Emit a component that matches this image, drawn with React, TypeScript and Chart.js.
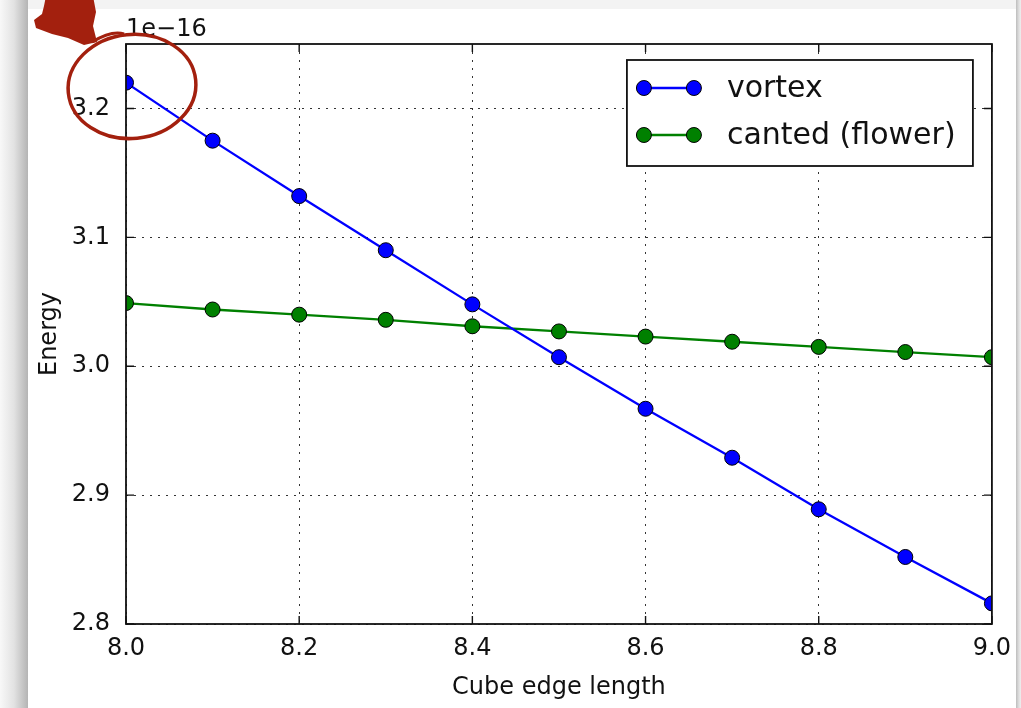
import React, { useEffect, useRef } from "react";
import { Chart, registerables } from "chart.js";

Chart.register(...registerables);

const edgeLengths = [8.0, 8.1, 8.2, 8.3, 8.4, 8.5, 8.6, 8.7, 8.8, 8.9, 9.0];
const vortexEnergy = [3.220, 3.175, 3.132, 3.090, 3.048, 3.007, 2.967, 2.929, 2.889, 2.852, 2.816];
const cantedEnergy = [3.049, 3.044, 3.040, 3.036, 3.031, 3.027, 3.023, 3.019, 3.015, 3.011, 3.007];
const xTicks = [8.0, 8.2, 8.4, 8.6, 8.8, 9.0];
const yTicks = [2.8, 2.9, 3.0, 3.1, 3.2];
const seriesNames = ["vortex", "canted (flower)"];
const seriesColors = ["#0000ff", "#008000"];
const offsetLabel = "1e\u221216";
const xTitle = "Cube edge length";
const yTitle = "Energy";

const FONT = "'DejaVu Sans', sans-serif";

const decorPlugin = {
  id: "decor",
  afterDraw(chart: any) {
    const { ctx, chartArea: a, scales } = chart;
    const xs = scales.x;
    const ys = scales.y;
    ctx.save();

    // inward ticks on all four sides
    ctx.strokeStyle = "#111";
    ctx.lineWidth = 1.4;
    ctx.beginPath();
    xTicks.forEach((v) => {
      const px = xs.getPixelForValue(v);
      ctx.moveTo(px, a.bottom);
      ctx.lineTo(px, a.bottom - 8);
      ctx.moveTo(px, a.top);
      ctx.lineTo(px, a.top + 8);
    });
    yTicks.forEach((v) => {
      const py = ys.getPixelForValue(v);
      ctx.moveTo(a.left, py);
      ctx.lineTo(a.left + 8, py);
      ctx.moveTo(a.right, py);
      ctx.lineTo(a.right - 8, py);
    });
    ctx.stroke();

    // frame
    ctx.lineWidth = 1.8;
    ctx.strokeStyle = "#111";
    ctx.strokeRect(a.left, a.top, a.right - a.left, a.bottom - a.top);

    // offset text
    ctx.fillStyle = "#111";
    ctx.font = `24px ${FONT}`;
    ctx.textAlign = "left";
    ctx.textBaseline = "alphabetic";
    ctx.fillText(offsetLabel, a.left, a.top - 8);

    // legend
    const lw = 346;
    const lh = 106;
    const lx = a.right - 19 - lw;
    const ly = a.top + 16;
    ctx.fillStyle = "#fff";
    ctx.fillRect(lx, ly, lw, lh);
    ctx.lineWidth = 1.8;
    ctx.strokeStyle = "#111";
    ctx.strokeRect(lx, ly, lw, lh);
    chart.data.datasets.forEach((ds: any, i: number) => {
      const cy = ly + 28 + i * 47;
      ctx.strokeStyle = ds.borderColor;
      ctx.lineWidth = 2.3;
      ctx.beginPath();
      ctx.moveTo(lx + 17, cy);
      ctx.lineTo(lx + 67, cy);
      ctx.stroke();
      [17, 67].forEach((dx) => {
        ctx.beginPath();
        ctx.arc(lx + dx, cy, 7.5, 0, Math.PI * 2);
        ctx.fillStyle = ds.pointBackgroundColor;
        ctx.fill();
        ctx.strokeStyle = "#000";
        ctx.lineWidth = 1;
        ctx.stroke();
      });
      ctx.fillStyle = "#111";
      ctx.font = `30px ${FONT}`;
      ctx.textBaseline = "middle";
      ctx.fillText(ds.label, lx + 100, cy + 1);
    });

    // red hand-drawn annotation
    const red = "#a3200e";
    const cx = a.left + 6;
    const cy = ys.getPixelForValue(3.2) - 22;
    ctx.strokeStyle = red;
    ctx.lineWidth = 3.5;
    ctx.beginPath();
    ctx.ellipse(cx, cy, 64, 52, -0.1, 0, Math.PI * 2);
    ctx.stroke();

    ctx.fillStyle = red;
    ctx.beginPath();
    const bx = a.left;
    const by = a.top;
    ctx.moveTo(bx - 80, by - 48);
    ctx.lineTo(bx - 33, by - 48);
    ctx.lineTo(bx - 30, by - 32);
    ctx.lineTo(bx - 33, by - 18);
    ctx.lineTo(bx - 29, by - 2);
    ctx.lineTo(bx - 42, by + 1);
    ctx.lineTo(bx - 58, by - 6);
    ctx.lineTo(bx - 74, by - 10);
    ctx.lineTo(bx - 90, by - 16);
    ctx.lineTo(bx - 92, by - 24);
    ctx.lineTo(bx - 84, by - 30);
    ctx.lineTo(bx - 82, by - 38);
    ctx.closePath();
    ctx.fill();
    ctx.lineWidth = 3;
    ctx.beginPath();
    ctx.moveTo(bx - 34, by - 2);
    ctx.quadraticCurveTo(bx - 14, by - 14, bx - 2, by - 10);
    ctx.stroke();

    ctx.restore();
  },
};

export default function App() {
  const canvasRef = useRef<HTMLCanvasElement | null>(null);

  useEffect(() => {
    if (!canvasRef.current) return;
    const makeData = (vals: number[]) => edgeLengths.map((x, i) => ({ x, y: vals[i] }));
    const chart = new Chart(canvasRef.current, {
      type: "line",
      data: {
        datasets: [vortexEnergy, cantedEnergy].map((vals, i) => ({
          label: seriesNames[i],
          data: makeData(vals),
          borderColor: seriesColors[i],
          backgroundColor: seriesColors[i],
          pointBackgroundColor: seriesColors[i],
          pointBorderColor: "#000",
          pointBorderWidth: 1,
          pointRadius: 7.5,
          borderWidth: 2.3,
          tension: 0,
          clip: 0,
        })),
      },
      options: {
        animation: false,
        responsive: false,
        devicePixelRatio: 1,
        layout: { padding: { left: 0, top: 44, right: 28, bottom: 0 } },
        plugins: { legend: { display: false }, tooltip: { enabled: false } },
        scales: {
          x: {
            type: "linear",
            min: 8.0,
            max: 9.0,
            afterBuildTicks: (s: any) => {
              s.ticks = xTicks.map((v) => ({ value: v }));
            },
            afterFit: (s: any) => {
              s.height = 84;
            },
            grid: { color: "#333", lineWidth: 1, drawTicks: false },
            border: { display: false, dash: [2, 6] },
            ticks: {
              padding: 10,
              color: "#111",
              font: { family: FONT, size: 24 },
              maxRotation: 0,
              callback: (v: any) => Number(v).toFixed(1),
            },
            title: {
              display: true,
              text: xTitle,
              color: "#111",
              font: { family: FONT, size: 24 },
              padding: { top: 0, bottom: 6 },
            },
          },
          y: {
            type: "linear",
            min: 2.8,
            max: 3.25,
            afterBuildTicks: (s: any) => {
              s.ticks = yTicks.map((v) => ({ value: v }));
            },
            afterFit: (s: any) => {
              s.width = 126;
            },
            grid: { color: "#333", lineWidth: 1, drawTicks: false },
            border: { display: false, dash: [2, 6] },
            ticks: {
              padding: 16,
              color: "#111",
              font: { family: FONT, size: 24 },
              callback: (v: any) => Number(v).toFixed(1),
            },
            title: {
              display: true,
              text: yTitle,
              color: "#111",
              font: { family: FONT, size: 24 },
              padding: { top: 35, bottom: 0 },
            },
          },
        },
      },
      plugins: [decorPlugin],
    } as any);
    return () => chart.destroy();
  }, []);

  return (
    <div
      style={{
        position: "fixed",
        left: 0,
        top: 0,
        width: 1021,
        height: 708,
        overflow: "hidden",
        background: "#f3f3f3",
      }}
    >
      <div
        style={{
          position: "absolute",
          left: 0,
          top: 0,
          width: 28,
          height: 708,
          background: "linear-gradient(to right, #f8f8f8 0%, #e2e2e2 50%, #b4b4b4 100%)",
        }}
      />
      <div
        style={{
          position: "absolute",
          left: 1016,
          top: 0,
          width: 5,
          height: 708,
          background: "linear-gradient(to right, #bdbdbd 0%, #e0e0e0 60%, #eeeeee 100%)",
        }}
      />
      <div
        style={{
          position: "absolute",
          left: 28,
          top: 9,
          width: 988,
          height: 720,
          background: "#ffffff",
        }}
      />
      <canvas
        ref={canvasRef}
        width={1021}
        height={708}
        style={{ position: "absolute", left: 0, top: 0, width: 1021, height: 708 }}
      />
    </div>
  );
}
